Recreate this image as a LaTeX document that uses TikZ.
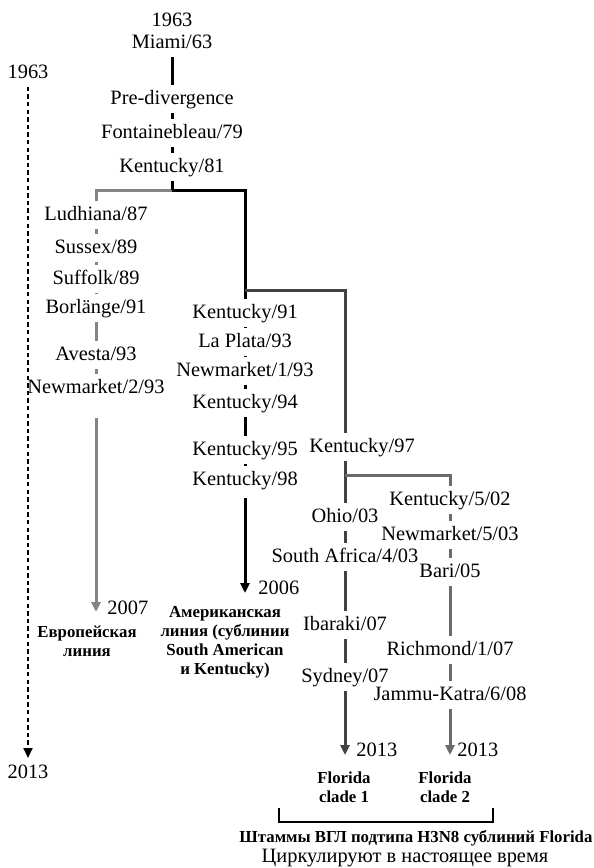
\documentclass[tikz,border=0pt]{standalone}
\usepackage{fontspec}
\setmainfont{Liberation Serif}
\usetikzlibrary{arrows.meta}

\colorlet{eurogray}{black!48}
\colorlet{flagray}{black!74}
\colorlet{flbgray}{black!58}

\begin{document}
\begin{tikzpicture}[x=0.5pt,y=-0.5pt,
    strain/.style={font=\fontsize{10.2}{12}\selectfont,text height=7pt,text depth=2pt,inner xsep=1pt,inner ysep=2.2pt},
    year/.style={font=\fontsize{10.2}{12}\selectfont,anchor=west,inner sep=0pt},
    lineage/.style={font=\bfseries\fontsize{8.4}{9.5}\selectfont,align=center,inner sep=0pt},
    branch/.style={line width=1.5pt},
    tip/.style={-{Triangle[length=5pt,width=4.5pt]}}]
    \useasboundingbox (0,0) rectangle (594,868);
    \begin{scope}[every node/.style={strain}]
        \node (top63) at (172,21) {1963};
        \node (miami) at (172,43) {Miami/63};
        \node (prediv) at (172,99) {Pre-divergence};
        \node (fontb) at (172,133) {Fontainebleau/79};
        \node (k81) at (172,167) {Kentucky/81};
        % european
        \node (ludh) at (96,215) {Ludhiana/87};
        \node (suss) at (96,248) {Sussex/89};
        \node (suff) at (96,279) {Suffolk/89};
        \node (borl) at (96,308) {Borlänge/91};
        \node (aves) at (96,355) {Avesta/93};
        \node (nm2) at (96,388) {Newmarket/2/93};
        % american
        \node (k91) at (245,313) {Kentucky/91};
        \node (lapl) at (245,342) {La Plata/93};
        \node (nm1) at (245,371) {Newmarket/1/93};
        \node (k94) at (245,403) {Kentucky/94};
        \node (k95) at (245,450) {Kentucky/95};
        \node (k98) at (245,480) {Kentucky/98};
        % florida
        \node (k97) at (362,447) {Kentucky/97};
        \node (ohio) at (345,517) {Ohio/03};
        \node (safr) at (345,557) {South Africa/4/03};
        \node (ibar) at (345,625) {Ibaraki/07};
        \node (sydn) at (345,677) {Sydney/07};
        \node (k502) at (450,500) {Kentucky/5/02};
        \node (nm5) at (450,535) {Newmarket/5/03};
        \node (bari) at (450,572) {Bari/05};
        \node (rich) at (450,650) {Richmond/1/07};
        \node (jamm) at (450,695) {Jammu-Katra/6/08};
        % time axis
        \node (t63) at (28,73) {1963};
        \node (t13) at (28,773) {2013};
    \end{scope}
    \coordinate (fork1) at (172,190);
    \coordinate (fork2) at (245,290);
    \coordinate (fork3) at (345,475);
    \coordinate (eurend) at (96,612);
    \coordinate (amend) at (245,593);
    \coordinate (flaend) at (345,755);
    \coordinate (flbend) at (450,755);
    \coordinate (tend) at (28,758);
    % trunk
    \draw[branch,eurogray] (fork1) -- (fork1 -| ludh) -- (ludh);
    \draw[branch] (miami) -- (prediv) -- (fontb) -- (k81) -- (fork1);
    \draw[branch] (fork1) -- (fork1 -| k91) -- (k91);
    % european line
    \draw[branch,eurogray] (ludh) -- (suss) -- (suff) -- (borl) -- (aves) -- (nm2);
    \draw[branch,eurogray,tip,shorten <=8pt] (nm2) -- (eurend);
    % american line
    \draw[branch] (k91) -- (lapl) -- (nm1) -- (k94) -- (k95) -- (k98);
    \draw[branch,tip,shorten <=2pt] (k98) -- (amend);
    % florida clade 1
    \draw[branch,flagray] (fork2) -- (fork2 -| ohio) -- (ohio |- k97.north);
    \draw[branch,flagray] (ohio |- k97.south) -- (ohio);
    \draw[branch,flagray] (ohio) -- (safr) -- (ibar) -- (sydn);
    \draw[branch,flagray,tip] (sydn) -- (flaend);
    % florida clade 2
    \draw[branch,flbgray] (fork3) -- (fork3 -| k502) -- (k502);
    \draw[branch,flbgray] (k502) -- (nm5) -- (bari) -- (rich) -- (jamm);
    \draw[branch,flbgray,tip] (jamm) -- (flbend);
    % time axis
    \draw[line width=0.9pt,dash pattern=on 2.2pt off 1.6pt,tip] (t63) -- (tend);
    % years
    \node[year] (y2007) at (107,608) {2007};
    \node[year] (y2006) at (258,588) {2006};
    \node[year] (y2013a) at (356,750) {2013};
    \node[year] (y2013b) at (457,750) {2013};
    % lineages
    \node[lineage] (euro) at (87,641) {Европейская\\линия};
    \node[lineage] (amer) at (225,642) {Американская\\линия (сублинии\\South American\\и Kentucky)};
    \node[lineage] (fla) at (344,787) {Florida\\clade 1};
    \node[lineage] (flb) at (445,787) {Florida\\clade 2};
    \coordinate (brl) at (279,808);
    \coordinate (brr) at (493,808);
    \draw[line width=0.6pt] (brl) -- ++(0,14) -| (brr);
    \node[lineage] (strains) at (416,838) {Штаммы ВГЛ подтипа H3N8 сублиний Florida};
    \node[strain] (circ) at (405,857) {Циркулируют в настоящее время};
\end{tikzpicture}
\end{document}
